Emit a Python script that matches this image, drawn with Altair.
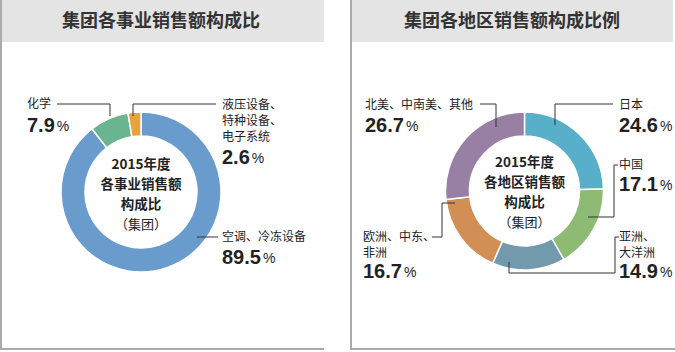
import altair as alt
import pandas as pd

# ---------------- data ----------------
titles = ["集团各事业销售额构成比", "集团各地区销售额构成比例"]

seg_left = ["空调、冷冻设备", "化学", "液压设备、特种设备、电子系统"]
val_left = [89.5, 7.9, 2.6]
col_left = ["#6a9bcd", "#6ab590", "#e8a43a"]

seg_right = ["日本", "中国", "亚洲、大洋洲", "欧洲、中东、非洲", "北美、中南美、其他"]
val_right = [24.6, 17.1, 14.9, 16.7, 26.7]
col_right = ["#58afc9", "#8dbb74", "#7399ad", "#d18f56", "#987fa4"]

center_left = ["2015年度", "各事业销售额", "构成比", "（集团）"]
center_right = ["2015年度", "各地区销售额", "构成比", "（集团）"]

FONT = "Noto Sans CJK SC"
NUMFONT = "Liberation Sans"
TXT = "#222222"

# ---------------- layout constants ----------------
W, H = 675, 352
LC = (141, 192, 80, 56)      # cx, cy, outer, inner
RC = (524.5, 191, 79, 55)

# label blocks: (lines of category text, value, x, first line y, line step, value y)
lab_left = [
    (["化学"], val_left[1], 27, 104, 16, 126),
    (["液压设备、", "特种设备、", "电子系统"], val_left[2], 222, 105, 16, 158),
    (["空调、冷冻设备"], val_left[0], 222, 237, 16, 258),
]
lab_right = [
    (["北美、中南美、其他"], val_right[4], 365, 105, 16, 126),
    (["日本"], val_right[0], 619, 105, 16, 126),
    (["中国"], val_right[1], 619, 165, 16, 185),
    (["亚洲、", "大洋洲"], val_right[2], 619, 237, 16, 272),
    (["欧洲、中东、", "非洲"], val_right[3], 363, 237, 16, 272),
]

leaders = [
    [(57, 104), (110, 104), (110, 116)],
    [(133, 116), (133, 104), (216, 104)],
    [(197, 237), (218, 237)],
    [(480, 104), (496, 104), (496, 127)],
    [(555, 125), (555, 104), (613, 104)],
    [(588, 217), (614, 217), (614, 165), (618, 165)],
    [(509, 262), (509, 273), (615, 273), (615, 237), (619, 237)],
    [(432, 237), (442, 237), (442, 203), (455, 203)],
]

NX = alt.X("x:Q", scale=None)
NY = alt.Y("y:Q", scale=None)

# ---------------- panels ----------------
bars = pd.DataFrame({"x": [0, 352], "x2": [324, 673], "y": [0, 0], "y2": [42, 42]})
bg = alt.Chart(bars).mark_rect(color="#e4e4e4").encode(
    x=NX, x2="x2:Q", y=NY, y2="y2:Q")

vlines = pd.DataFrame({"x": [1, 351], "y": [0, 0], "y2": [350, 350]})
vr = alt.Chart(vlines).mark_rule(color="#aaaaaa", strokeWidth=2).encode(
    x=NX, y=NY, y2="y2:Q")
hlines = pd.DataFrame({"x": [0, 351], "x2": [324, 675], "y": [349, 349]})
hr = alt.Chart(hlines).mark_rule(color="#aaaaaa", strokeWidth=2).encode(
    x=NX, x2="x2:Q", y=NY)

tdf = pd.DataFrame({"t": titles, "x": [161, 512], "y": [22, 22]})
ttl = alt.Chart(tdf).mark_text(font=FONT, fontSize=18, fontWeight="bold",
                               color="#333333", baseline="middle").encode(
    x=NX, y=NY, text="t:N")


# ---------------- donuts ----------------
def donut(cats, vals, cols, geo):
    cx, cy, r, r2 = geo
    df = pd.DataFrame({"cat": cats, "val": vals, "col": cols,
                       "ord": list(range(len(cats)))})
    return alt.Chart(df).mark_arc(radius=r, radius2=r2, stroke="white",
                                  strokeWidth=1.5).encode(
        theta=alt.Theta("val:Q", stack=True),
        order=alt.Order("ord:Q"),
        color=alt.Color("col:N", scale=None),
        x=alt.value(cx), y=alt.value(cy),
    )


dl = donut(seg_left, val_left, col_left, LC)
dr = donut(seg_right, val_right, col_right, RC)

# ---------------- leaders ----------------
rows = []
for i, pts in enumerate(leaders):
    for j, (x, y) in enumerate(pts):
        rows.append({"g": i, "o": j, "x": x, "y": y})
lead = alt.Chart(pd.DataFrame(rows)).mark_line(color="#333333", strokeWidth=1).encode(
    x=NX, y=NY, detail="g:N", order="o:Q")

# ---------------- labels ----------------
cat_rows, num_rows, pct_rows = [], [], []


def numw(s, size=20):
    return sum(0.556 * size if c.isdigit() else 0.278 * size for c in s)


for lines, v, x, y0, step, vy in lab_left + lab_right:
    for k, ln in enumerate(lines):
        cat_rows.append({"t": ln, "x": x, "y": y0 + k * step})
    s = f"{v:.1f}"
    num_rows.append({"t": s, "x": x, "y": vy})
    pct_rows.append({"t": "%", "x": x + numw(s) + 2, "y": vy + 1})

cat = alt.Chart(pd.DataFrame(cat_rows)).mark_text(
    font=FONT, fontSize=12, color=TXT, align="left", baseline="middle").encode(
    x=NX, y=NY, text="t:N")
num = alt.Chart(pd.DataFrame(num_rows)).mark_text(
    font=NUMFONT, fontSize=20, fontWeight="bold", color=TXT, align="left",
    baseline="middle").encode(x=NX, y=NY, text="t:N")
pct = alt.Chart(pd.DataFrame(pct_rows)).mark_text(
    font=NUMFONT, fontSize=14, color=TXT, align="left", baseline="middle").encode(
    x=NX, y=NY, text="t:N")

# ---------------- center text ----------------
cb, cn = [], []
for lines, (cx, cy0) in [(center_left, (141, 165)), (center_right, (524.5, 163))]:
    for k, ln in enumerate(lines):
        row = {"t": ln, "x": cx, "y": cy0 + k * 20}
        (cn if k == 3 else cb).append(row)
ctb = alt.Chart(pd.DataFrame(cb)).mark_text(
    font=FONT, fontSize=13.5, fontWeight="bold", color=TXT, baseline="middle").encode(
    x=NX, y=NY, text="t:N")
ctn = alt.Chart(pd.DataFrame(cn)).mark_text(
    font=FONT, fontSize=13, color=TXT, baseline="middle").encode(
    x=NX, y=NY, text="t:N")

chart = alt.layer(bg, vr, hr, ttl, dl, dr, lead, cat, num, pct, ctb, ctn).resolve_scale(
    theta="independent"
).properties(
    width=W, height=H, padding=0, autosize=alt.AutoSizeParams(type="none"),
    background="white"
).configure_view(stroke=None)

chart.save("out.html", embed_options={"renderer": "svg", "actions": False})
